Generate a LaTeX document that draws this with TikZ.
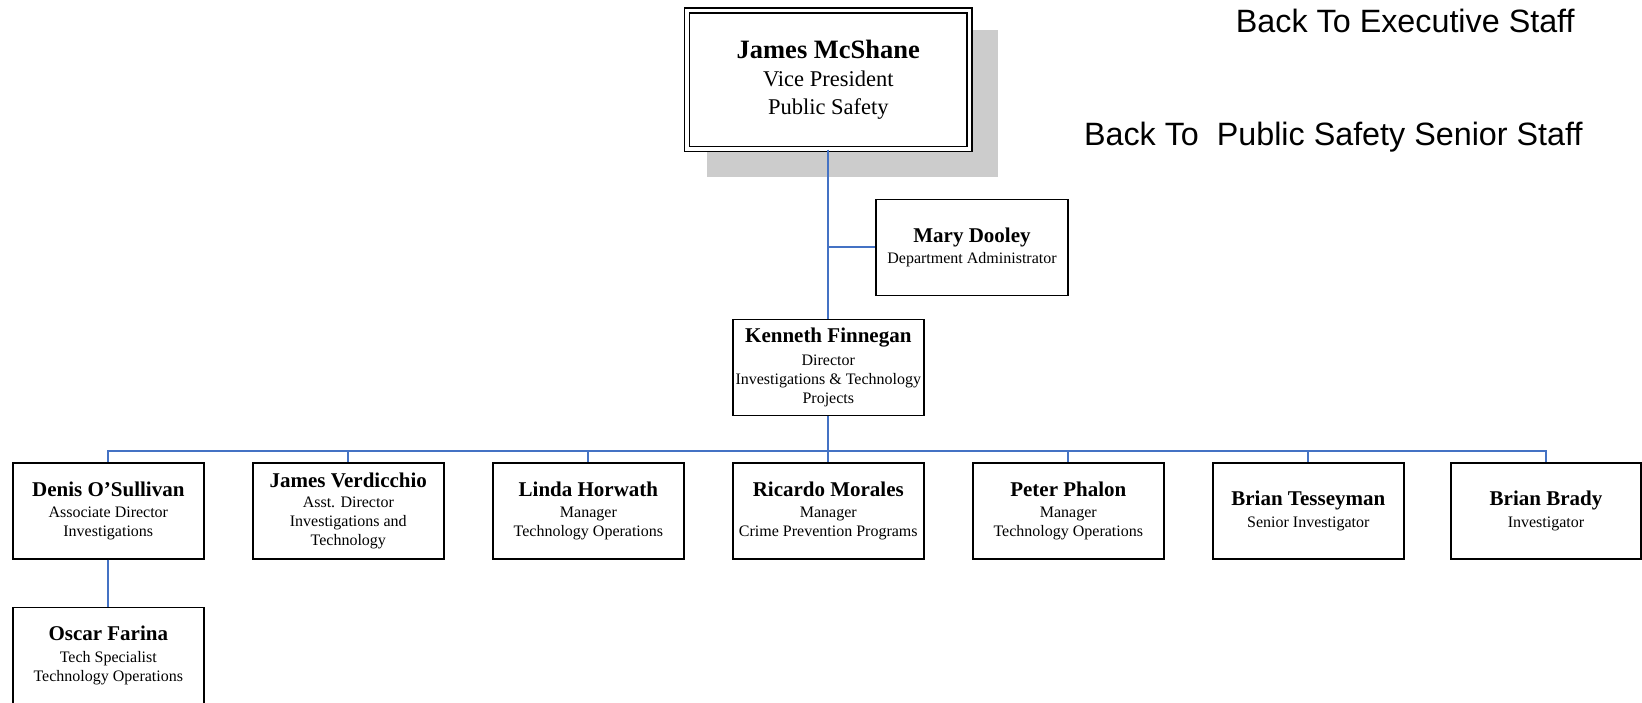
\documentclass[tikz,border=0pt]{standalone}
\usepackage{fontspec}
\setmainfont{Liberation Serif}
\newfontfamily\linkfont{Liberation Sans}
\usetikzlibrary{backgrounds}
\definecolor{linkblue}{HTML}{4472C4}

\begin{document}
\begin{tikzpicture}[x=1pt, y=-1pt,
    person/.style={draw, line width=1.5pt, minimum width=191pt, minimum height=96pt, inner sep=0pt, align=center, fill=white, font=\fontsize{16}{19.3}\selectfont},
    link/.style={draw=linkblue, line width=2pt},
    backlink/.style={font=\linkfont\fontsize{32.3}{38}\selectfont, anchor=base west, inner sep=0pt}]
    \useasboundingbox (0,0) rectangle (1642,703);

    % Vice President, double frame with grey shadow
    \node[draw, double, line width=1.3pt, double distance=3.6pt, minimum width=282.5pt, minimum height=138.5pt, inner sep=0pt, align=center, fill=white, font=\fontsize{22.5}{27.3}\selectfont] (vp) at (828.3,79.7) {{\fontsize{26.5}{30}\selectfont\bfseries James McShane}\\[1pt] Vice President\\ Public Safety};
    \begin{scope}[on background layer]
        \fill[gray!40] ([xshift=20.5pt,yshift=-20.5pt]vp.north west) rectangle ([xshift=27.5pt,yshift=-27.5pt]vp.south east); % shadow
    \end{scope}

    % Links back
    \node[backlink] (exec) at (1235.7,32.5) {Back To Executive Staff};
    \node[backlink] (senior) at (1083.8,145.5) {Back To\ \ Public Safety Senior Staff};

    % Staff and Director
    \node[person, minimum width=192pt] (md) at (972,247.5) {{\fontsize{21}{24}\selectfont\bfseries Mary Dooley}\\[2pt] Department Administrator};
    \node[person] (kf) at (828.3,367.7) {{\fontsize{21}{24}\selectfont\bfseries Kenneth Finnegan}\\[3pt] Director\\ Investigations \& Technology\\ Projects};

    % Bottom row
    \node[person] (dos) at (108.3,510.9) {{\fontsize{21}{24}\selectfont\bfseries Denis O’Sullivan}\\[2pt] Associate Director\\ Investigations};
    \node[person] (jv) at (348.3,510.9) {{\fontsize{21}{24}\selectfont\bfseries James Verdicchio}\\[1pt] Asst. Director\\ Investigations and\\ Technology};
    \node[person] (lh) at (588.4,510.9) {{\fontsize{21}{24}\selectfont\bfseries Linda Horwath}\\[2pt] Manager\\ Technology Operations};
    \node[person] (rm) at (828.3,510.9) {{\fontsize{21}{24}\selectfont\bfseries Ricardo Morales}\\[2pt] Manager\\ Crime Prevention Programs};
    \node[person] (pp) at (1068.3,510.9) {{\fontsize{21}{24}\selectfont\bfseries Peter Phalon}\\[2pt] Manager\\ Technology Operations};
    \node[person] (bt) at (1308.3,510.9) {{\fontsize{21}{24}\selectfont\bfseries Brian Tesseyman}\\[2pt] Senior Investigator};
    \node[person, minimum width=190pt] (bb) at (1546,510.9) {{\fontsize{21}{24}\selectfont\bfseries Brian Brady}\\[2pt] Investigator};
    \node[person] (of) at (108.3,655.5) {{\fontsize{21}{24}\selectfont\bfseries Oscar Farina}\\[2pt] Tech Specialist\\ Technology Operations};

    % Connectors
    \draw[link] (vp.south) -- (kf.north);
    \draw[link] (vp.south |- md.west) -- (md.west);
    \draw[link] (kf.south) -- (rm.north);
    \draw[link] (dos.north) -- ++(0,-11) -| (bb.north); % bus
    \foreach \who in {jv,lh,pp,bt}
        \draw[link] (\who.north) -- ++(0,-11);
    \draw[link] (dos.south) -- (of.north);
\end{tikzpicture}
\end{document}
